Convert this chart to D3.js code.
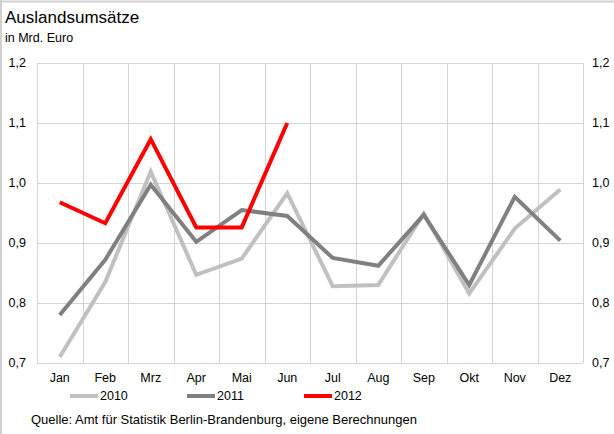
<!DOCTYPE html>
<meta charset="utf-8">
<style>
body { margin: 0; background: #fff; font-family: "Liberation Sans", Arial, sans-serif; }
.grid line { stroke: #d4d4d4; stroke-width: 1; shape-rendering: crispEdges; }
.tick text { font-size: 12.5px; fill: #000; }
</style>
<body>
<script src="https://d3js.org/d3.v7.min.js"></script>
<script>

var months = ["Jan", "Feb", "Mrz", "Apr", "Mai", "Jun", "Jul", "Aug", "Sep", "Okt", "Nov", "Dez"];
var values2010 = [0.71, 0.835, 1.019, 0.847, 0.874, 0.983, 0.828, 0.83, 0.949, 0.816, 0.924, 0.989];
var values2011 = [0.78, 0.872, 0.997, 0.902, 0.955, 0.945, 0.875, 0.862, 0.947, 0.83, 0.977, 0.904];
var values2012 = [0.968, 0.933, 1.073, 0.926, 0.926, 1.1];
var yTicks = [0.7, 0.8, 0.9, 1.0, 1.1, 1.2];

var series = [
  {name: "2010", values: values2010, color: "#c0c0c0"},
  {name: "2011", values: values2011, color: "#808080"},
  {name: "2012", values: values2012, color: "#ff0000"}
];

var W = 614, H = 434;
var plotLeft = 37, plotRight = 583, plotTop = 63, plotBottom = 363;

var svg = d3.select("body").append("svg")
    .attr("width", W)
    .attr("height", H);

// outer frame (top and left edges visible)
svg.append("line").attr("x1", 0).attr("x2", W).attr("y1", 1.5).attr("y2", 1.5)
    .attr("stroke", "#d0d0d0").attr("stroke-width", 2);
svg.append("line").attr("x1", 1).attr("x2", 1).attr("y1", 0).attr("y2", H)
    .attr("stroke", "#d0d0d0").attr("stroke-width", 2);

var x = d3.scaleBand().domain(months).range([plotLeft, plotRight]);
var y = d3.scaleLinear().domain([0.7, 1.2]).range([plotBottom, plotTop]);
var fmt = function(d) { return d3.format(".1f")(d).replace(".", ","); };

// grid
var grid = svg.append("g").attr("class", "grid");
grid.selectAll(".h").data(yTicks).enter().append("line")
    .attr("x1", plotLeft).attr("x2", plotRight)
    .attr("y1", function(d) { return Math.round(y(d)) + 0.5; })
    .attr("y2", function(d) { return Math.round(y(d)) + 0.5; });
grid.selectAll(".v").data(months.concat(["end"])).enter().append("line")
    .attr("x1", function(d, i) { return Math.round(plotLeft + i * x.bandwidth()) + 0.5; })
    .attr("x2", function(d, i) { return Math.round(plotLeft + i * x.bandwidth()) + 0.5; })
    .attr("y1", plotTop).attr("y2", plotBottom);

// axes
var yLeft = svg.append("g")
    .attr("transform", "translate(" + (plotLeft - 11) + ",0)")
    .call(d3.axisLeft(y).tickValues(yTicks).tickFormat(fmt).tickSize(0).tickPadding(0));
var yRight = svg.append("g")
    .attr("transform", "translate(" + (plotRight + 9) + ",0)")
    .call(d3.axisRight(y).tickValues(yTicks).tickFormat(fmt).tickSize(0).tickPadding(0));
var xAx = svg.append("g")
    .attr("transform", "translate(0," + (plotBottom + 8) + ")")
    .call(d3.axisBottom(x).tickSize(0).tickPadding(0));
[yLeft, yRight, xAx].forEach(function(g) { g.select(".domain").remove(); });
yLeft.selectAll("text").attr("dy", "0.3em");
yRight.selectAll("text").attr("dy", "0.3em");
xAx.selectAll("text").attr("dy", "0.9em");

// lines
var line = d3.line()
    .x(function(d, i) { return x(months[i]) + x.bandwidth() / 2; })
    .y(function(d) { return y(d); });

svg.selectAll(".series").data(series).enter().append("path")
    .attr("fill", "none")
    .attr("stroke", function(d) { return d.color; })
    .attr("stroke-width", 4)
    .attr("stroke-linejoin", "miter")
    .attr("d", function(d) { return line(d.values); });

// title
svg.append("text").attr("x", 5).attr("y", 23)
    .style("font-size", "17px").text("Auslandsumsätze");
svg.append("text").attr("x", 5).attr("y", 42)
    .style("font-size", "12.5px").text("in Mrd. Euro");

// legend
var legend = svg.selectAll(".legend").data(series).enter().append("g")
    .attr("transform", function(d, i) { return "translate(" + (70 + i * 117) + ",396)"; });
legend.append("line").attr("x1", 0).attr("x2", 28).attr("y1", 0).attr("y2", 0)
    .attr("stroke", function(d) { return d.color; }).attr("stroke-width", 4);
legend.append("text").attr("x", 30).attr("y", 0).attr("dy", "0.35em")
    .style("font-size", "12.5px").text(function(d) { return d.name; });

// source
svg.append("text").attr("x", 31).attr("y", 424)
    .style("font-size", "13px")
    .text("Quelle: Amt für Statistik Berlin-Brandenburg, eigene Berechnungen");

</script>
</body>
